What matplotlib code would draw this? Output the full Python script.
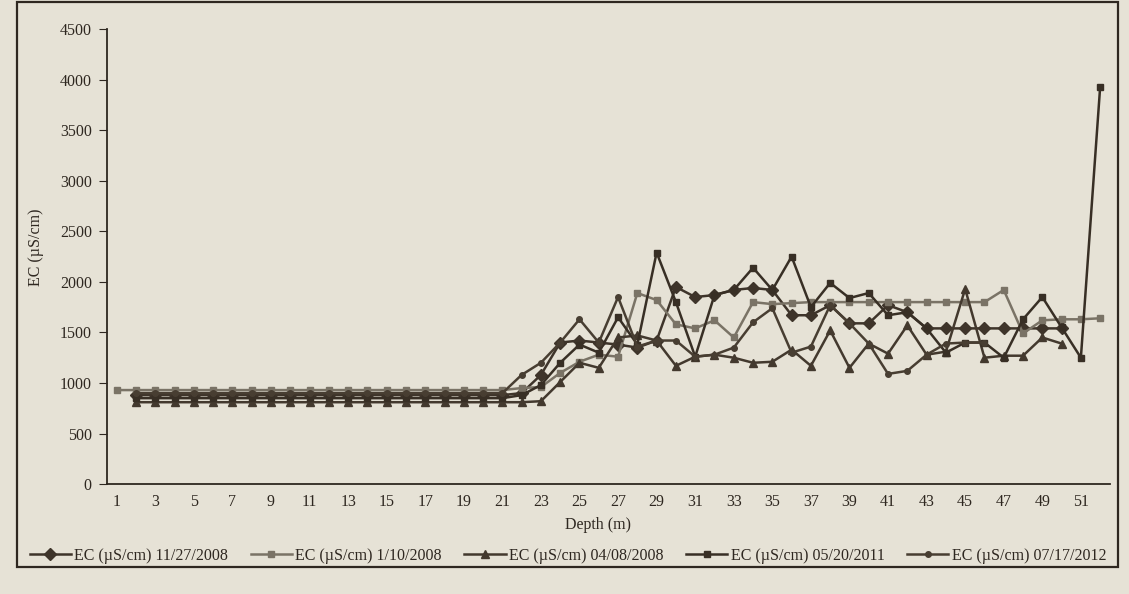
import numpy as np
import matplotlib.pyplot as plt
from matplotlib.patches import Rectangle

plt.rcParams['font.family'] = ['Liberation Serif', 'DejaVu Serif']

depth = list(range(1, 53))
tick_labels = [str(d) for d in range(1, 52, 2)]

ec_2008_11_27 = [None] + [880] * 20 + [
    900, 1080, 1400, 1420, 1400, 1380, 1350, 1420, 1950, 1850,
    1870, 1920, 1940, 1920, 1670, 1670, 1770, 1590, 1590, 1770,
    1700, 1540, 1540, 1540, 1540, 1540, 1540, 1540, 1540, None, None]
ec_2008_01_10 = [930] * 21 + [
    950, 960, 1100, 1210, 1280, 1260, 1890, 1820, 1580, 1540,
    1620, 1450, 1800, 1780, 1790, 1800, 1800, 1800, 1800, 1800,
    1800, 1800, 1800, 1800, 1800, 1920, 1490, 1620, 1630, 1630, 1640]
ec_2008_04_08 = [None] + [810] * 21 + [
    820, 1010, 1200, 1150, 1450, 1470, 1420, 1170, 1260, 1280,
    1250, 1200, 1210, 1330, 1170, 1520, 1150, 1390, 1290, 1570,
    1280, 1310, 1930, 1250, 1270, 1270, 1450, 1390, None, None]
ec_2011_05_20 = [None] + [850] * 20 + [
    880, 980, 1200, 1380, 1300, 1650, 1380, 2290, 1800, 1260,
    1870, 1920, 2140, 1920, 2250, 1750, 1990, 1840, 1890, 1670,
    1700, 1540, 1300, 1400, 1400, 1250, 1630, 1850, 1550, 1250, 3930]
ec_2012_07_17 = [None] + [900] * 20 + [
    1080, 1200, 1400, 1630, 1400, 1850, 1360, 1420, 1420, 1260,
    1280, 1350, 1600, 1740, 1300, 1360, 1770, 1590, 1390, 1090,
    1120, 1280, 1390, 1400, 1400] + [None] * 6

series = [
    ("EC (\u00b5S/cm) 11/27/2008", ec_2008_11_27, "D", 6, "#3e342a"),
    ("EC (\u00b5S/cm) 1/10/2008", ec_2008_01_10, "s", 5, "#7a7366"),
    ("EC (\u00b5S/cm) 04/08/2008", ec_2008_04_08, "^", 6, "#43392e"),
    ("EC (\u00b5S/cm) 05/20/2011", ec_2011_05_20, "s", 5, "#382f25"),
    ("EC (\u00b5S/cm) 07/17/2012", ec_2012_07_17, "o", 4, "#483e32"),
]

paper = "#e6e2d6"
ink = "#2e2720"

fig = plt.figure(figsize=(11.29, 5.94), dpi=100, facecolor=paper)
ax = fig.add_axes([0.0948, 0.185, 0.8882, 0.766])
ax.set_facecolor(paper)

for label, vals, mk, ms, col in series:
    y = np.array([np.nan if v is None else v for v in vals], dtype=float)
    ax.plot(depth, y, color=col, lw=1.8, marker=mk, ms=ms, label=label)

ax.set_xlim(0.5, 52.5)
ax.set_ylim(0, 4500)
ax.set_yticks(range(0, 4501, 500))
ax.set_xticks(range(1, 52, 2))
ax.set_xticklabels(tick_labels)
ax.tick_params(axis='y', direction='out', length=6, pad=5, color=ink,
               labelsize=11.5, labelcolor=ink)
ax.tick_params(axis='x', length=0, pad=7, labelsize=11.5, labelcolor=ink)
for s in ['top', 'right']:
    ax.spines[s].set_visible(False)
for s in ['left', 'bottom']:
    ax.spines[s].set_color(ink)
    ax.spines[s].set_linewidth(1.3)

ax.set_ylabel("EC (\u00b5S/cm)", fontsize=11.5, color=ink)
ax.yaxis.set_label_coords(-0.063, 0.52)
ax.set_xlabel("Depth (m)", fontsize=11.5, color=ink)
ax.xaxis.set_label_coords(0.49, -0.073)

fig.legend(loc='center', bbox_to_anchor=(0.503, 0.064), ncol=5, frameon=False,
           fontsize=11.5, handlelength=2.6, columnspacing=1.4, handletextpad=0.2,
           labelcolor=ink)

fig.patches.append(Rectangle((0.015, 0.045), 0.975, 0.952, transform=fig.transFigure,
                             fill=False, edgecolor=ink, lw=1.6))

fig.savefig("out.png", dpi=100, facecolor=paper)
